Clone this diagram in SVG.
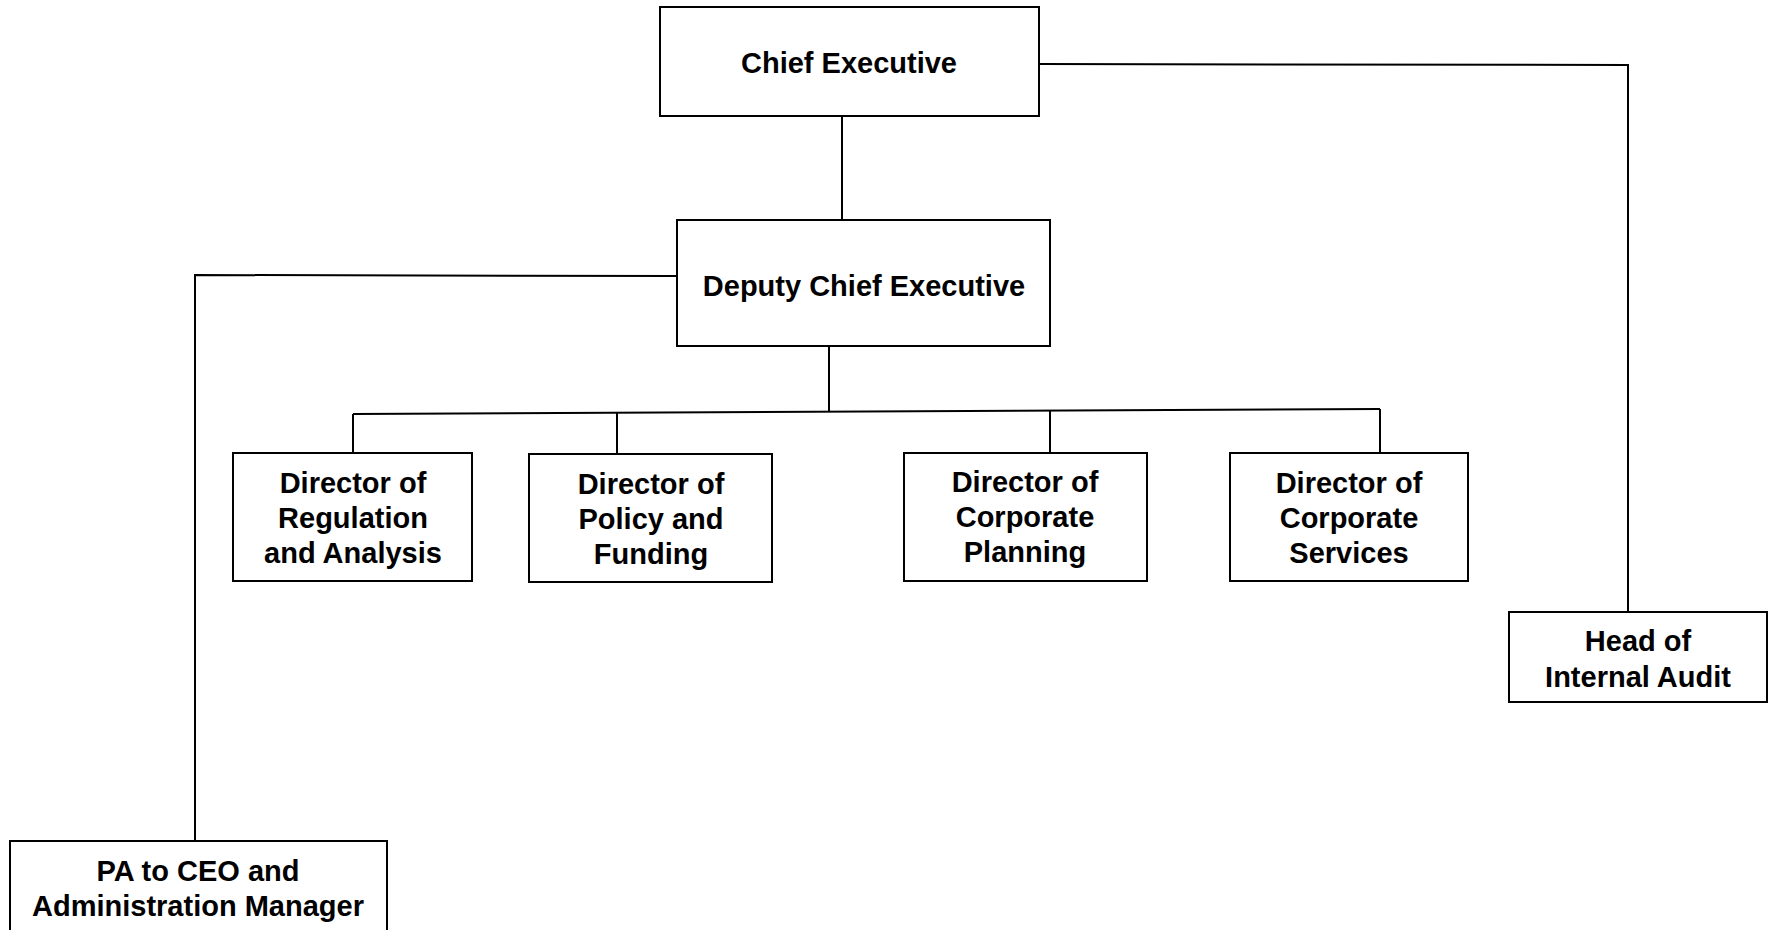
<svg xmlns="http://www.w3.org/2000/svg" width="1768" height="930" viewBox="0 0 1768 930">
<style>
.box{fill:#fff;stroke:#000;stroke-width:2}
.lbl{font-family:"Liberation Sans",Arial,sans-serif;font-weight:bold;font-size:29px;fill:#000;text-anchor:middle}
.con{fill:none;stroke:#000;stroke-width:2}
</style>
<rect width="1768" height="930" fill="#fff"/>
<g id="connectors">
<polyline class="con" points="842,116 842,220"/>
<polyline class="con" points="1039,64 1628,65 1628,612"/>
<polyline class="con" points="677,276 195,275 195,841"/>
<polyline class="con" points="829,346 829,411"/>
<polyline class="con" points="353,414 1380,409"/>
<polyline class="con" points="353,414 353,453"/>
<polyline class="con" points="617,413 617,454"/>
<polyline class="con" points="1050,411 1050,453"/>
<polyline class="con" points="1380,409 1380,453"/>
</g>
<g id="chief-executive">
<rect class="box" x="660" y="7" width="379" height="109"/>
<text class="lbl" x="849" y="73">Chief Executive</text>
</g>
<g id="deputy-chief-executive">
<rect class="box" x="677" y="220" width="373" height="126"/>
<text class="lbl" x="864" y="296">Deputy Chief Executive</text>
</g>
<g id="director-regulation">
<rect class="box" x="233" y="453" width="239" height="128"/>
<text class="lbl" x="353" y="493">Director of</text>
<text class="lbl" x="353" y="528">Regulation</text>
<text class="lbl" x="353" y="563">and Analysis</text>
</g>
<g id="director-policy">
<rect class="box" x="529" y="454" width="243" height="128"/>
<text class="lbl" x="651" y="494">Director of</text>
<text class="lbl" x="651" y="529">Policy and</text>
<text class="lbl" x="651" y="564">Funding</text>
</g>
<g id="director-planning">
<rect class="box" x="904" y="453" width="243" height="128"/>
<text class="lbl" x="1025" y="492">Director of</text>
<text class="lbl" x="1025" y="527">Corporate</text>
<text class="lbl" x="1025" y="562">Planning</text>
</g>
<g id="director-services">
<rect class="box" x="1230" y="453" width="238" height="128"/>
<text class="lbl" x="1349" y="493">Director of</text>
<text class="lbl" x="1349" y="528">Corporate</text>
<text class="lbl" x="1349" y="563">Services</text>
</g>
<g id="head-internal-audit">
<rect class="box" x="1509" y="612" width="258" height="90"/>
<text class="lbl" x="1638" y="651">Head of</text>
<text class="lbl" x="1638" y="687">Internal Audit</text>
</g>
<g id="pa-to-ceo">
<rect class="box" x="10" y="841" width="377" height="100"/>
<text class="lbl" x="198" y="881">PA to CEO and</text>
<text class="lbl" x="198" y="916">Administration Manager</text>
</g>
</svg>
